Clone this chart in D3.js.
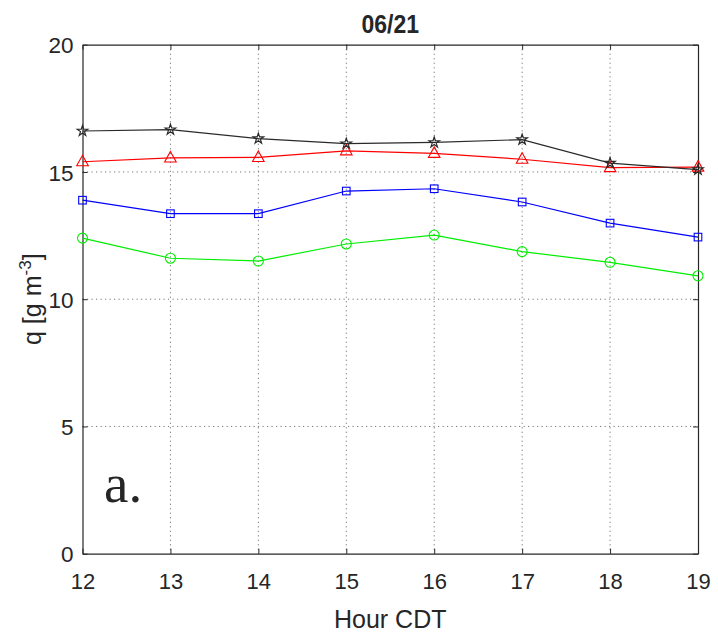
<!DOCTYPE html>
<html>
<head>
<meta charset="utf-8">
<script src="https://cdn.jsdelivr.net/npm/d3@7"></script>
<style>
  html, body { margin: 0; padding: 0; background: #fff; }
  svg { display: block; }
  text { font-family: "Liberation Sans", Arial, Helvetica, sans-serif; fill: #262626; }
</style>
</head>
<body>
<svg id="chart" width="718" height="633"></svg>
<script>
// Specific humidity by hour (CDT), 06/21
const hours = [12, 13, 14, 15, 16, 17, 18, 19];
const qStar     = [16.61, 16.66, 16.31, 16.11, 16.16, 16.27, 15.35, 15.09]; // black, pentagram
const qTriangle = [15.40, 15.55, 15.57, 15.83, 15.73, 15.50, 15.17, 15.19]; // red, triangle
const qSquare   = [13.89, 13.36, 13.36, 14.25, 14.34, 13.82, 12.99, 12.44]; // blue, square
const qCircle   = [12.40, 11.61, 11.50, 12.17, 12.52, 11.87, 11.45, 10.92]; // green, circle
const xTicks = [12, 13, 14, 15, 16, 17, 18, 19];
const yTicks = [0, 5, 10, 15, 20];
const titleText = "06/21";
const xLabel = "Hour CDT";
const panelTag = "a.";

const svg = d3.select("#chart");
const L = 82.5, R = 698, T = 44.7, B = 553.7;

const x = d3.scaleLinear().domain([12, 19]).range([L, R]);
const y = d3.scaleLinear().domain([0, 20]).range([B, T]);

// dotted grid
const grid = svg.append("g")
  .attr("stroke", "#777").attr("stroke-width", 1)
  .attr("stroke-dasharray", "1.2,3.3").attr("fill", "none");
grid.selectAll("line.gx").data(xTicks.slice(1, -1)).join("line")
  .attr("x1", d => x(d)).attr("x2", d => x(d)).attr("y1", T).attr("y2", B);
grid.selectAll("line.gy").data(yTicks.slice(1, -1)).join("line")
  .attr("y1", d => y(d)).attr("y2", d => y(d)).attr("x1", L).attr("x2", R);

// axes with inward ticks on all four sides
const axisStyle = g => {
  g.select(".domain").attr("stroke", "#262626").attr("stroke-width", 1.2);
  g.selectAll(".tick line").attr("stroke", "#262626").attr("stroke-width", 1);
};
svg.append("g").attr("transform", `translate(0,${B})`)
  .call(d3.axisBottom(x).tickValues(xTicks).tickSize(-5).tickSizeOuter(0).tickPadding(0).tickFormat(d3.format("d")))
  .call(axisStyle)
  .call(g => g.selectAll(".tick text").attr("y", 35).attr("dy", null)
    .style("font-size", "22px").attr("fill", "#262626"));
svg.append("g").attr("transform", `translate(0,${T})`)
  .call(d3.axisTop(x).tickValues(xTicks).tickSize(-5).tickSizeOuter(0).tickFormat(""))
  .call(axisStyle);
svg.append("g").attr("transform", `translate(${L},0)`)
  .call(d3.axisLeft(y).tickValues(yTicks).tickSize(-5).tickSizeOuter(0).tickPadding(0).tickFormat(d3.format("d")))
  .call(axisStyle)
  .call(g => g.selectAll(".tick text").attr("x", -9).attr("dy", "0.36em")
    .style("font-size", "22.5px").attr("fill", "#262626"));
svg.append("g").attr("transform", `translate(${R},0)`)
  .call(d3.axisRight(y).tickValues(yTicks).tickSize(-5).tickSizeOuter(0).tickFormat(""))
  .call(axisStyle);

// series
const series = [
  { values: qCircle,   color: "#00ee00", symbol: "circle" },
  { values: qSquare,   color: "#0000ff", symbol: "square" },
  { values: qTriangle, color: "#ff0000", symbol: "triangle" },
  { values: qStar,     color: "#2a2a2a", symbol: "star" }
];

const line = d3.line().x(d => x(d[0])).y(d => y(d[1]));

function drawMarker(g, symbol, color) {
  if (symbol === "circle") {
    g.append("circle").attr("r", 5).attr("fill", "none").attr("stroke", color).attr("stroke-width", 1.1);
  } else if (symbol === "square") {
    g.append("rect").attr("x", -3.8).attr("y", -3.8).attr("width", 7.6).attr("height", 7.6)
      .attr("fill", "none").attr("stroke", color).attr("stroke-width", 1.1);
  } else if (symbol === "triangle") {
    g.append("path").attr("d", "M0,-6.5 L5.8,4 L-5.8,4 Z")
      .attr("fill", "none").attr("stroke", color).attr("stroke-width", 1.1);
  } else {
    g.append("path").attr("d", d3.symbol(d3.symbolStar, 34)())
      .attr("fill", "none").attr("stroke", color).attr("stroke-width", 1.2);
  }
}

series.forEach(s => {
  const pts = hours.map((h, i) => [h, s.values[i]]);
  svg.append("path").datum(pts).attr("d", line)
    .attr("fill", "none").attr("stroke", s.color).attr("stroke-width", 1.2);
  svg.append("g").selectAll("g").data(pts).join("g")
    .attr("transform", d => `translate(${x(d[0])},${y(d[1])})`)
    .each(function () { drawMarker(d3.select(this), s.symbol, s.color); });
});

// title
svg.append("text").attr("x", (L + R) / 2).attr("y", 33).attr("text-anchor", "middle")
  .style("font-size", "23px").style("font-weight", "bold").attr("fill", "#000")
  .attr("transform", `translate(0,33) scale(1,1.12) translate(0,-33)`)
  .text(titleText);

// x label
svg.append("text").attr("x", (L + R) / 2).attr("y", 628).attr("text-anchor", "middle")
  .style("font-size", "25px").text(xLabel);

// y label with superscript
const yl = svg.append("text").attr("transform", `translate(41,${(T + B) / 2}) rotate(-90)`)
  .attr("text-anchor", "middle").style("font-size", "25px");
yl.append("tspan").text("q [g m");
yl.append("tspan").attr("dy", -10).style("font-size", "17px").text("-3");
yl.append("tspan").attr("dy", 10).text("]");

// panel tag
svg.append("text").attr("x", 104).attr("y", 502)
  .style("font-family", "'Liberation Serif', 'DejaVu Serif', serif").style("font-size", "55px")
  .attr("fill", "#000").text(panelTag);
</script>
</body>
</html>
